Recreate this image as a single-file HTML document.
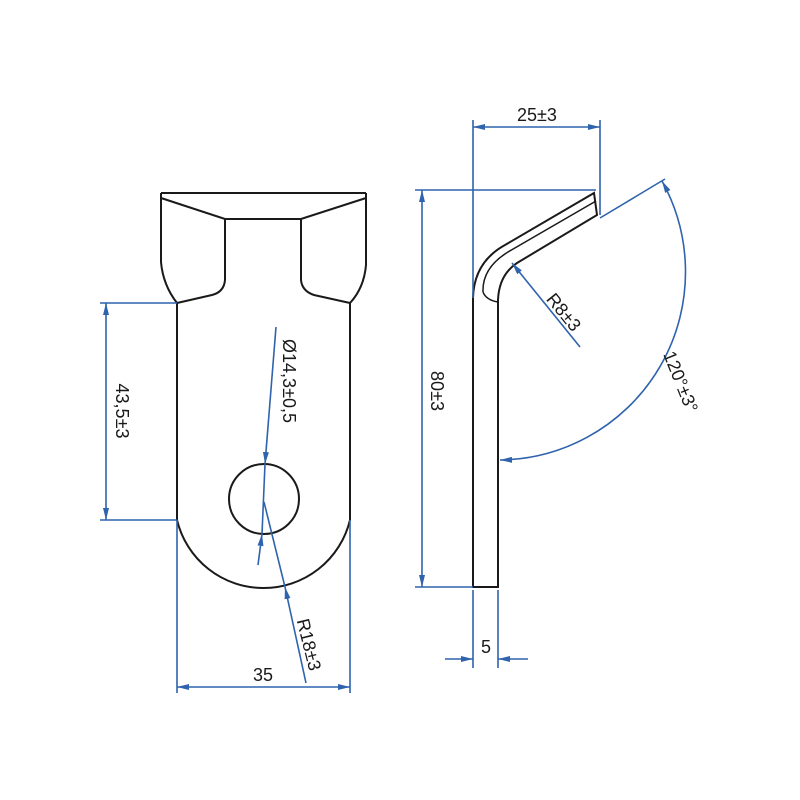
<!DOCTYPE html>
<html><head><meta charset="utf-8"><style>html,body{margin:0;padding:0;background:#fff}svg{display:block}</style></head>
<body>
<svg width="800" height="800" viewBox="0 0 800 800" xmlns="http://www.w3.org/2000/svg">
<defs>
<marker id="a" viewBox="0 0 12 6" refX="12" refY="3" markerWidth="12" markerHeight="6" markerUnits="userSpaceOnUse" orient="auto-start-reverse"><path d="M0,0 L12,3 L0,6 Z" fill="#2f63ad"/></marker>
</defs>
<g fill="none" stroke="#1a1a1a" stroke-width="2">
<path d="M161,193 H366"/>
<path d="M161,193 V262 Q163,285 177,303"/>
<path d="M366,193 V265 Q364,288 350,303"/>
<path d="M161,198 L225,219 H301 L366,198"/>
<path d="M225,219 V280 Q224,292 212,295 L177,303"/>
<path d="M301,219 V280 Q302,291 314,295 L350,303"/>
<path d="M177,303 V520 A89,89 0 0 0 350,520 V303"/>
<circle cx="264" cy="499" r="35"/>
<path d="M473,587 V298 Q474,262 505,245 L594,193 L597,215 L517,263 Q499,275 498,300 V587 Z"/>
<path d="M483,292 Q482,268 508,252 L596,201" stroke-width="1.5"/>
<path d="M483,292 Q486,300 498,302" stroke-width="1.5"/>
</g>
<g fill="none" stroke="#2f63ad" stroke-width="1.6">
<path d="M100,303 H177 M100,520 H177"/>
<path d="M106,412 V303" marker-end="url(#a)"/><path d="M106,412 V520" marker-end="url(#a)"/>
<path d="M177,520 V693 M350,520 V693"/>
<path d="M263,687 H177" marker-end="url(#a)"/><path d="M263,687 H350" marker-end="url(#a)"/>
<path d="M276,327 L265,464" marker-end="url(#a)"/>
<path d="M258,565 L262,534" marker-end="url(#a)"/>
<path d="M265,464 L262,534"/>
<path d="M306,683 L285,587" marker-end="url(#a)"/>
<path d="M285,587 L264,502"/>
<path d="M473,120 V298 M600,120 V215"/>
<path d="M537,127 H473" marker-end="url(#a)"/><path d="M537,127 H600" marker-end="url(#a)"/>
<path d="M415,190 H596 M415,587 H473"/>
<path d="M422,390 V190" marker-end="url(#a)"/><path d="M422,390 V587" marker-end="url(#a)"/>
<path d="M445,659 H473" marker-end="url(#a)"/><path d="M528,659 H498" marker-end="url(#a)"/>
<path d="M473,590 V668 M498,590 V668"/>
<path d="M580,347 L512,263" marker-end="url(#a)"/>
<path d="M600,218 L665,179"/>
<path d="M500,460 A188,188 0 0 0 662,181" marker-start="url(#a)" marker-end="url(#a)"/>
</g>
<g font-family="Liberation Sans, sans-serif" font-size="18" fill="#1a1a1a">
<text x="263" y="681" text-anchor="middle">35</text>
<text x="486" y="653" text-anchor="middle">5</text>
<text x="537" y="121" text-anchor="middle">25±3</text>
<text transform="translate(116,411) rotate(90)" text-anchor="middle">43,5±3</text>
<text transform="translate(431,391) rotate(90)" text-anchor="middle">80±3</text>
<text transform="translate(283,381) rotate(90)" text-anchor="middle">Ø14,3±0,5</text>
<text transform="translate(303,646) rotate(76)" text-anchor="middle">R18±3</text>
<text transform="translate(559,316) rotate(51)" text-anchor="middle">R8±3</text>
<text transform="translate(675,384) rotate(68)" text-anchor="middle">120°±3°</text>
</g>
</svg>
</body></html>
